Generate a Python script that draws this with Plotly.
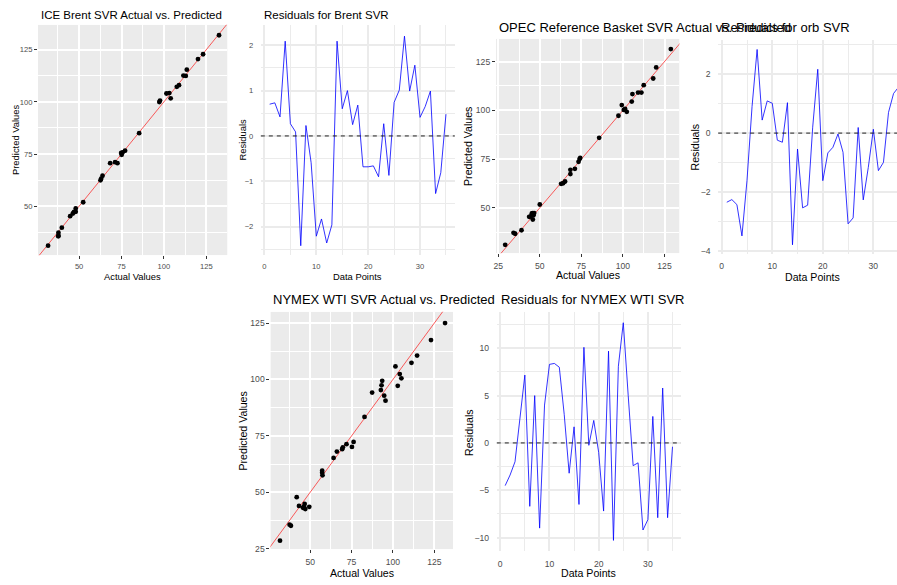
import plotly.graph_objects as go

W, H = 897, 585
FONT = "Liberation Sans, Arial, sans-serif"

# ---------------- data ----------------
points = list(range(1, 36))

brent_actual = [31.7, 37.8, 37.8, 37.7, 39.8, 44.7, 46.3, 47.0, 48.0, 48.0, 52.4, 62.6, 63.0, 63.8, 68.3,
                71.2, 72.6, 74.8, 75.1, 75.7, 77.1, 85.4, 97.3, 97.7, 101.5, 103.2, 104.0, 107.6, 108.9,
                111.5, 112.9, 113.5, 120.1, 123.1, 132.5]
brent_pred = [31.1, 37.3, 35.9, 35.6, 39.7, 45.2, 46.5, 47.3, 48.9, 47.3, 51.9, 62.4, 63.2, 64.6, 70.6,
              71.1, 70.6, 75.5, 74.6, 75.8, 76.6, 85.0, 99.9, 100.6, 104.0, 104.2, 101.7, 107.2, 108.0,
              112.6, 112.4, 115.4, 120.5, 122.8, 131.9]
brent_resid = [0.70, 0.73, 0.42, 2.09, 0.27, 0.09, -2.42, 0.23, -0.59, -2.21, -1.83, -2.36, -1.96, 2.09,
               0.60, 1.00, 0.25, 0.68, -0.68, -0.68, -0.66, -0.90, 0.27, -0.87, 0.74, 1.01, 2.20, 0.99,
               1.56, 0.41, 0.65, 0.99, -1.27, -0.81, 0.48]

opec_actual = [29.2, 34.2, 35.2, 39.0, 43.6, 44.5, 45.2, 45.8, 46.2, 45.8, 46.6, 50.0, 62.8, 64.0, 65.2,
               68.4, 68.4, 71.1, 73.3, 73.9, 74.3, 85.7, 97.3, 99.3, 100.5, 101.3, 102.3, 105.3, 105.7,
               109.1, 111.1, 112.5, 118.2, 120.0, 128.8]
opec_pred = [31.0, 37.2, 36.7, 38.5, 45.4, 45.6, 47.1, 47.3, 46.2, 44.0, 47.3, 51.7, 62.3, 62.6, 63.5,
             69.5, 67.3, 70.0, 73.6, 75.0, 75.6, 85.9, 97.2, 102.7, 100.2, 100.7, 99.2, 104.5, 108.3,
             109.1, 109.1, 112.9, 116.3, 122.0, 131.4]
orb_resid = [-2.34, -2.25, -2.42, -3.48, -1.6, 0.9, 2.83, 0.44, 1.09, 1.01, -0.24, -0.31, 1.03, -3.78,
             -0.54, -2.53, -2.44, 0.2, 2.16, -1.61, -0.67, -0.48, -0.03, -0.65, -3.07, -2.87, 0.19,
             -2.26, -1.16, 0.13, -1.27, -0.99, 0.70, 1.34, 1.56]

wti_actual = [31.7, 37.5, 38.3, 41.8, 43.2, 46.2, 46.6, 47.0, 45.6, 49.4, 57.2, 57.2, 57.4, 64.1, 66.1,
              69.3, 69.7, 71.9, 75.2, 76.2, 82.8, 87.4, 92.7, 93.1, 93.5, 94.7, 95.5, 101.5, 102.9,
              104.1, 105.1, 111.2, 114.6, 123.0, 131.5]
wti_pred = [28.5, 35.6, 35.1, 47.8, 43.9, 43.6, 44.8, 42.5, 43.1, 43.5, 59.5, 58.6, 57.5, 65.2, 68.0,
            69.1, 69.9, 71.3, 70.1, 72.3, 83.4, 94.2, 95.3, 97.4, 99.4, 92.8, 90.6, 105.8, 97.2,
            102.4, 100.5, 107.4, 110.6, 117.5, 125.0]
wti_resid = [-4.51, -3.39, -1.99, 2.8, 7.17, -6.7, 5.0, -9.0, 4.0, 8.3, 8.4, 8.0, 3.0, -3.2, 1.7, -6.5,
             10.1, -0.25, 2.38, -1.0, -7.2, 9.7, -10.3, 8.1, 12.7, 5.0, -2.4, -2.1, -9.2, -8.1, 2.8,
             -7.9, 5.8, -7.9, -0.4]

titles = ["ICE Brent SVR Actual vs. Predicted", "Residuals for Brent SVR",
          "OPEC Reference Basket SVR Actual vs. Predicted", "Residuals for orb SVR",
          "NYMEX WTI SVR Actual vs. Predicted", "Residuals for NYMEX WTI SVR"]

# ---------------- layout spec (pixels) ----------------
def fx(p):
    return p / W

def fy(p):
    return 1 - p / H

panels = [
    dict(kind="sc", x=brent_actual, y=brent_pred, xd=(36, 226), yd=(25, 257), xr=[25.7, 137.5], yr=[26.5, 136.9],
         xdt=25, ydt=25, fs=(11.5, 9.4, 7.6), tpos=(37, 15), xt=(131, 278), yt=(13, 141), xso=1),
    dict(kind="res", x=points, y=brent_resid, xd=(259.4, 453.8), yd=(25, 257), xr=[-0.7, 36.7], yr=[-2.63, 2.45],
         xdt=10, ydt=1, fs=(11.5, 9.4, 7.6), tpos=(261, 15), xt=(356, 278), yt=(241, 141), xso=1),
    dict(kind="sc", x=opec_actual, y=opec_pred, xd=(495, 679), yd=(39, 255), xr=[23.6, 134.0], yr=[26.7, 136.7],
         xdt=25, ydt=25, fs=(13, 10.6, 8.6), tpos=(496, 28), xt=(587, 277), yt=(467, 147), xso=1),
    dict(kind="res", x=points, y=orb_resid, xd=(717.8, 897), yd=(40, 256), xr=[-0.7, 34.68], yr=[-4.1, 3.16],
         xdt=10, ydt=2, fs=(13, 10.6, 8.6), tpos=(719, 28), xt=(812, 278.5), yt=(695, 148), xso=0),
    dict(kind="sc", x=wti_actual, y=wti_pred, xd=(269, 452), yd=(314, 553), xr=[25.9, 136.3], yr=[24.7, 130.0],
         xdt=25, ydt=25, fs=(13, 10.6, 8.6), tpos=(270, 302), xt=(360.5, 577), yt=(242, 434), xso=1),
    dict(kind="res", x=points, y=wti_resid, xd=(495.9, 680.4), yd=(314, 555), xr=[-0.7, 36.7], yr=[-11.44, 13.85],
         xdt=10, ydt=5, fs=(13, 10.6, 8.6), tpos=(498, 302), xt=(588, 577), yt=(468, 435), xso=1),
]

fig = go.Figure()
layout = dict(width=W, height=H, autosize=False, margin=dict(l=0, r=0, t=0, b=0, pad=0),
              paper_bgcolor="white", plot_bgcolor="rgba(0,0,0,0)", showlegend=False,
              font=dict(family=FONT, color="black"))
shapes, annotations = [], []

for i, p in enumerate(panels, start=1):
    sx = "" if i == 1 else str(i)
    xa, ya = "x" + sx, "y" + sx
    grey = p["kind"] == "sc"
    gridc = "white" if grey else "#EBEBEB"
    tsz, asz, ksz = p["fs"]

    def ax(dom, rng, dt, anchor, is_x):
        d = dict(domain=dom, range=rng, tickmode="linear", tick0=0, dtick=dt, anchor=anchor,
                 showgrid=True, gridcolor=gridc, gridwidth=1.5, zeroline=False, showline=False,
                 tickfont=dict(family=FONT, size=ksz, color="#4D4D4D"),
                 minor=dict(tick0=0, dtick=dt / 2, showgrid=True, gridcolor=gridc, gridwidth=0.8),
                 fixedrange=True)
        if grey:
            d.update(ticks="outside", ticklen=3, tickwidth=1, tickcolor="#333333",
                     ticklabelstandoff=p["xso"] if is_x else 0)
        else:
            d.update(ticks="outside", ticklen=3, tickwidth=1, tickcolor="rgba(0,0,0,0)",
                     ticklabelstandoff=p["xso"] if is_x else 2)
        return d

    layout["xaxis" + sx] = ax([fx(p["xd"][0]), fx(p["xd"][1])], p["xr"], p["xdt"], ya, True)
    layout["yaxis" + sx] = ax([fy(p["yd"][1]), fy(p["yd"][0])], p["yr"], p["ydt"], xa, False)

    if grey:
        shapes.append(dict(type="rect", xref=xa, yref=ya, x0=p["xr"][0], x1=p["xr"][1],
                           y0=p["yr"][0], y1=p["yr"][1],
                           fillcolor="#EBEBEB", line=dict(width=0), layer="below"))
        lo = min(p["xr"][0], p["yr"][0]) - 20
        hi = max(p["xr"][1], p["yr"][1]) + 20
        fig.add_trace(go.Scatter(x=[lo, hi], y=[lo, hi], mode="lines", xaxis=xa, yaxis=ya,
                                 line=dict(color="rgba(255,0,0,0.7)", width=0.9), hoverinfo="skip"))
        fig.add_trace(go.Scatter(x=p["x"], y=p["y"], mode="markers", xaxis=xa, yaxis=ya,
                                 marker=dict(color="black", size=4.8, line=dict(width=0))))
        xlab, ylab = "Actual Values", "Predicted Values"
    else:
        shapes.append(dict(type="line", xref=xa + " domain", yref=ya, x0=0, x1=1, y0=0, y1=0,
                           line=dict(color="#222222", width=1, dash="4px,4px"), layer="above"))
        fig.add_trace(go.Scatter(x=p["x"], y=p["y"], mode="lines", xaxis=xa, yaxis=ya,
                                 line=dict(color="rgba(0,0,255,0.8)", width=1)))
        xlab, ylab = "Data Points", "Residuals"

    annotations.append(dict(text=titles[i - 1], xref="paper", yref="paper", x=fx(p["tpos"][0]),
                            y=fy(p["tpos"][1]), xanchor="left", yanchor="middle", showarrow=False,
                            font=dict(family=FONT, size=tsz, color="black")))
    annotations.append(dict(text=xlab, xref="paper", yref="paper", x=fx(p["xt"][0]), y=fy(p["xt"][1]),
                            xanchor="center", yanchor="middle", showarrow=False,
                            font=dict(family=FONT, size=asz, color="black")))
    annotations.append(dict(text=ylab, xref="paper", yref="paper", x=fx(p["yt"][0]), y=fy(p["yt"][1]),
                            xanchor="center", yanchor="middle", showarrow=False, textangle=-90,
                            font=dict(family=FONT, size=asz, color="black")))

layout["shapes"] = shapes
layout["annotations"] = annotations
fig.update_layout(**layout)

fig.write_html("out.html", config={"displayModeBar": False},
               post_script="document.body.style.margin='0px';document.body.style.overflow='hidden';")
